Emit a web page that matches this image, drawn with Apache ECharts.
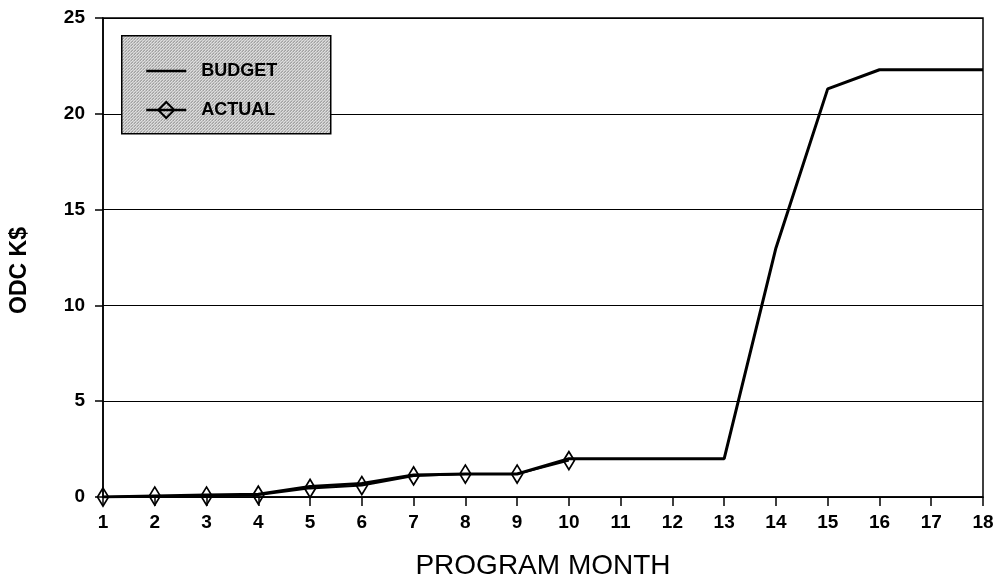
<!DOCTYPE html>
<html>
<head>
<meta charset="utf-8">
<script src="https://cdn.jsdelivr.net/npm/echarts@6/dist/echarts.min.js"></script>
<style>
html,body{margin:0;padding:0;background:#fff;}
#c{width:1002px;height:586px;}
</style>
</head>
<body>
<div id="c"></div>
<script>
var months = ['1','2','3','4','5','6','7','8','9','10','11','12','13','14','15','16','17','18'];
var budget = [0, 0.05, 0.1, 0.15, 0.55, 0.7, 1.15, 1.2, 1.2, 2.0, 2.0, 2.0, 2.0, 13.0, 21.3, 22.3, 22.3, 22.3];
var actual = [0, 0.05, 0.05, 0.1, 0.45, 0.6, 1.1, 1.2, 1.2, 1.9];
var yTicks = [0, 5, 10, 15, 20, 25];

// stipple pattern for legend box
var pc = document.createElement('canvas');
pc.width = 3; pc.height = 3;
var pctx = pc.getContext('2d');
pctx.fillStyle = '#e6e6e6'; pctx.fillRect(0,0,3,3);
pctx.fillStyle = '#6a6a6a'; pctx.fillRect(0,0,1,1); pctx.fillRect(1,2,1,1);
pctx.fillStyle = '#a0a0a0'; pctx.fillRect(2,1,1,1);

var chart = echarts.init(document.getElementById('c'), null, {renderer:'canvas'});
var font = 'Liberation Sans, Arial, sans-serif';
var legendText = {fontFamily: font, fontSize: 18, fontWeight: 'bold', color: '#000', padding: [0,0,0,10]};
chart.setOption({
  animation: false,
  backgroundColor: '#fff',
  grid: {left: 101, right: 19, top: 18, bottom: 89, show: true, borderColor: '#000', borderWidth: 1.5, backgroundColor: 'transparent'},
  graphic: [{
    type: 'rect', left: 121, top: 35, z: 5,
    shape: {width: 209, height: 98},
    style: {fill: {image: pc, repeat: 'repeat'}, stroke: '#000', lineWidth: 1.5}
  }],
  legend: [{
    left: 140, top: 57, z: 10,
    itemWidth: 40, itemHeight: 18,
    textStyle: legendText,
    data: [{name: 'BUDGET', itemStyle: {opacity: 0}, lineStyle: {width: 2.5, color: '#000'}}]
  }, {
    left: 140, top: 96, z: 10,
    itemWidth: 40, itemHeight: 20,
    textStyle: legendText,
    data: [{name: 'ACTUAL', lineStyle: {width: 2.5, color: '#000'}}]
  }],
  xAxis: {
    type: 'category', data: months, boundaryGap: false,
    axisLine: {show: true, lineStyle: {color: '#000', width: 1.5}},
    axisTick: {show: true, inside: false, length: 9, lineStyle: {color: '#000', width: 1.5}},
    axisLabel: {color: '#000', fontFamily: font, fontSize: 19, fontWeight: 'bold', margin: 16, interval: 0},
    splitLine: {show: false},
    name: 'PROGRAM MONTH', nameLocation: 'middle', nameGap: 55,
    nameTextStyle: {fontFamily: font, fontSize: 28, color: '#000'}
  },
  yAxis: {
    type: 'value', min: 0, max: 25, interval: 5,
    axisLine: {show: true, lineStyle: {color: '#000', width: 1.5}},
    axisTick: {show: true, length: 8, lineStyle: {color: '#000', width: 1.5}},
    axisLabel: {color: '#000', fontFamily: font, fontSize: 19, fontWeight: 'bold', margin: 18,
      formatter: function(v){ return yTicks.indexOf(v) >= 0 ? String(v) : ''; }},
    splitLine: {show: true, lineStyle: {color: '#000', width: 1.2}},
    name: 'ODC K$', nameLocation: 'middle', nameGap: 72, nameRotate: 90,
    nameTextStyle: {fontFamily: font, fontSize: 23, fontWeight: 'bold', color: '#000', padding: [0, 26, 0, 0]}
  },
  series: [
    {
      name: 'BUDGET', type: 'line', data: budget, symbol: 'none', z: 3,
      lineStyle: {color: '#000', width: 3}, itemStyle: {color: '#000'}
    },
    {
      name: 'ACTUAL', type: 'line', data: actual, symbol: 'diamond', symbolSize: [11, 18], z: 4,
      showAllSymbol: true,
      lineStyle: {color: '#000', width: 2},
      itemStyle: {color: 'rgba(255,255,255,0)', borderColor: '#000', borderWidth: 1.8}
    }
  ]
});
</script>
</body>
</html>
